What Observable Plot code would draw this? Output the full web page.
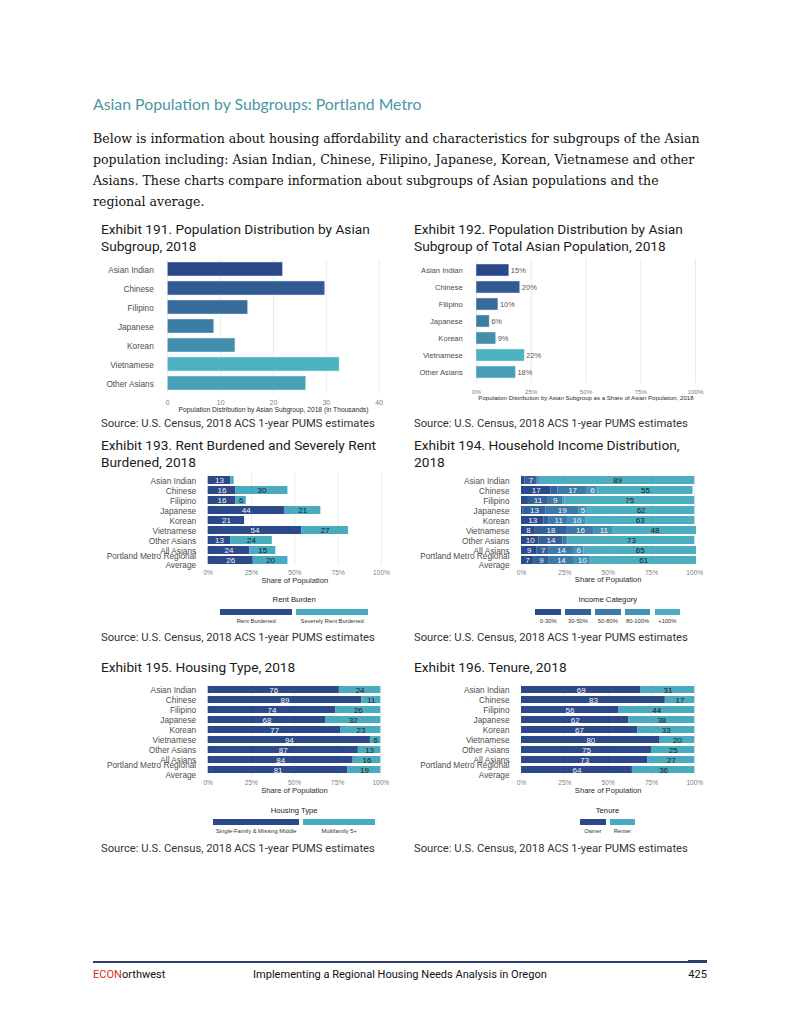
<!DOCTYPE html>
<html><head><meta charset="utf-8">
<script src="https://cdn.jsdelivr.net/npm/d3@7"></script>
<script src="https://cdn.jsdelivr.net/npm/@observablehq/plot@0.6"></script>
<style>
body{margin:0;background:#fff;}
#page{position:relative;width:800px;height:1035px;overflow:hidden;background:#fff;}
</style></head><body><div id="page"></div>
<script>
// ---------------- DATA ----------------
const groups = ["Asian Indian","Chinese","Filipino","Japanese","Korean","Vietnamese","Other Asians"];
const groupsAll = ["Asian Indian","Chinese","Filipino","Japanese","Korean","Vietnamese","Other Asians","All Asians","Portland Metro Regional Average"];
const popThousands = [21.8, 29.8, 15.2, 8.8, 12.8, 32.5, 26.2];
const popShare = [15, 20, 10, 6, 9, 22, 18];
const rentCats = ["Rent Burdened","Severely Rent Burdened"];
const rentBurdened = [13,16,16,44,21,54,13,24,26];
const severelyRentBurdened = [2,30,6,21,0,27,24,15,20];
const incomeCats = ["0-30%","30-50%","50-80%","80-100%","+100%"];
const income0_30 = [2,17,4,1,13,8,10,9,7];
const income30_50 = [7,4,11,13,3,18,14,7,9];
const income50_80 = [1,17,9,19,11,16,2,14,14];
const income80_100 = [1,6,1,5,10,11,1,6,10];
const income100plus = [89,55,75,62,63,48,73,65,61];
const housingCats = ["Single-Family & Missing Middle","Multifamily 5+"];
const singleFamily = [76,89,74,68,77,94,87,84,81];
const multifamily = [24,11,26,32,23,6,13,16,19];
const tenureCats = ["Owner","Renter"];
const owner = [69,83,56,62,67,80,75,73,64];
const renter = [31,17,44,38,33,20,25,27,36];
const ticksThousands = [0,10,20,30,40];
const ticksPct = [0,25,50,75,100];

// ---------------- STYLE ----------------
const SANS = '"Liberation Sans", Arial, sans-serif';
const dark = "#2c4a8a", teal = "#4aaabf";
const incomeColors = ["#2b4a8a","#33629b","#3b7aa9","#4493b5","#4daec2"];
const alpha = [...groups].sort();
const colors7 = alpha.map((g,i)=>d3.interpolateRgb("#2a4887","#4db2c0")(i/6));
const page = document.getElementById("page");

function fitSize(str, font, target){
  const c = document.createElement("canvas").getContext("2d");
  c.font = `20px ${font}`;
  return 20*target/c.measureText(str).width;
}
function addText(str, o){
  const d = document.createElement("div");
  d.textContent = str;
  const lh = o.lh || o.size*1.25;
  Object.assign(d.style,{position:"absolute",left:o.x+"px",top:(o.y-lh/2)+"px",fontFamily:o.font,
    fontSize:o.size+"px",lineHeight:lh+"px",color:o.color||"#000",whiteSpace:"pre",fontWeight:o.weight||"normal"});
  if(o.anchor==="middle") d.style.transform="translateX(-50%)";
  if(o.anchor==="end") d.style.transform="translateX(-100%)";
  page.appendChild(d); return d;
}

// ---------------- PAGE TEXT ----------------
const TITLEF = 'Lato, "Open Sans", sans-serif';
const titleStr = "Asian Population by Subgroups: Portland Metro";
addText(titleStr,{x:93,y:104,font:TITLEF,size:fitSize(titleStr,TITLEF,329),color:"#4a98a3"});
const BODYF = '"DejaVu Serif", serif';
const body = ["Below is information about housing affordability and characteristics for subgroups of the Asian",
 "population including: Asian Indian, Chinese, Filipino, Japanese, Korean, Vietnamese and other",
 "Asians. These charts compare information about subgroups of Asian populations and the",
 "regional average."];
const bodySize = fitSize(body[0],BODYF,607);
body.forEach((l,i)=>addText(l,{x:93,y:139+21*i,font:BODYF,size:bodySize,color:"#111"}));

const EXF = 'Roboto, "Liberation Sans", sans-serif';
const exSize = fitSize("Exhibit 191. Population Distribution by Asian",EXF,269);
function exTitle(lines,x,y){ lines.forEach((l,i)=>addText(l,{x,y:y+16.2*i,font:EXF,size:exSize,color:"#1a1a1a"})); }
exTitle(["Exhibit 191. Population Distribution by Asian","Subgroup, 2018"],101,230);
exTitle(["Exhibit 192. Population Distribution by Asian","Subgroup of Total Asian Population, 2018"],414,230);
exTitle(["Exhibit 193. Rent Burdened and Severely Rent","Burdened, 2018"],101,446);
exTitle(["Exhibit 194. Household Income Distribution,","2018"],414,446);
exTitle(["Exhibit 195. Housing Type, 2018"],101,668);
exTitle(["Exhibit 196. Tenure, 2018"],414,668);
const srcStr = "Source: U.S. Census, 2018 ACS 1-year PUMS estimates";
const srcSize = fitSize(srcStr,EXF,274);
[[101,424],[414,424],[101,638.5],[414,638.5],[101,849],[414,849]].forEach(([x,y])=>addText(srcStr,{x,y,font:EXF,size:srcSize,color:"#333"}));

// footer
const foot = document.createElement("div");
Object.assign(foot.style,{position:"absolute",left:"93px",top:"961px",width:"614px",height:"1.6px",background:"#2e3e6c"});
page.appendChild(foot);
const foot2 = document.createElement("div");
Object.assign(foot2.style,{position:"absolute",left:"688px",top:"960px",width:"19px",height:"3px",background:"#2e3e6c"});
page.appendChild(foot2);
const midStr = "Implementing a Regional Housing Needs Analysis in Oregon";
const footSize = fitSize(midStr,EXF,294);
const econ = addText("",{x:93,y:975,font:EXF,size:footSize});
econ.innerHTML = '<span style="color:#cf2e2e">ECON</span><span style="color:#111">orthwest</span>';
addText(midStr,{x:253,y:975,font:EXF,size:footSize,color:"#111"});
addText("425",{x:707,y:975,font:EXF,size:footSize,color:"#111",anchor:"end"});

// ---------------- CHART HELPERS ----------------
function place(svg,left,top){ svg.style.position="absolute"; svg.style.left=left+"px"; svg.style.top=top+"px"; page.appendChild(svg); }
function ylab(d){ return d==="Portland Metro Regional Average" ? "Portland Metro Regional\nAverage" : d; }

function chart(c){
  const n = c.yDomain.length;
  const rangeTop = c.yFirst - c.step/2;
  const frameBottom = rangeTop + n*c.step;
  const marginTop = rangeTop - c.top;
  const marginBottom = c.axisLabelY + 8 - frameBottom;
  const height = marginTop + n*c.step + marginBottom;
  const marginLeft = c.x0 - c.left;
  const marginRight = 12;
  const width = c.x1 - c.left + marginRight;
  const tickPadding = c.tickY - 0.355*c.tickFont - frameBottom;
  const svg = Plot.plot({
    width, height, marginLeft, marginRight, marginTop, marginBottom,
    style:{fontFamily:SANS, background:"transparent", overflow:"visible"},
    x:{domain:c.xDomain},
    y:{domain:c.yDomain, paddingInner:c.pad, paddingOuter:c.pad/2, align:0.5},
    color:c.color,
    marks:[
      Plot.gridX(c.xTicks,{stroke:"#e6e6e6", strokeOpacity:1, strokeWidth:0.8}),
      ...c.marks,
      Plot.axisX(c.xTicks,{tickSize:0, tickPadding, fontSize:c.tickFont, color:"#808080", tickFormat:c.xFormat, label:null}),
      Plot.axisY({tickSize:0, tickPadding:c.x0-c.labelEnd, fontSize:c.yFont, color:"#4d4d4d", tickFormat:ylab, lineHeight:1.13, label:null}),
      Plot.text([c.axisLabel],{frameAnchor:"bottom", dy:c.axisLabelY-frameBottom+1, fontSize:c.axisLabelFont, fill:"#2a2a2a"})
    ]
  });
  place(svg,c.left,c.top);
}

function legend(c){
  addText(c.title,{x:c.cx,y:c.titleY,font:SANS,size:7.7,color:"#222",anchor:"middle"});
  const total = c.widths.reduce((a,b)=>a+b,0) + c.gap*(c.widths.length-1);
  let x = c.cx - total/2;
  c.labels.forEach((lab,i)=>{
    const w = c.widths[i];
    const s = document.createElement("div");
    Object.assign(s.style,{position:"absolute",left:x+"px",top:c.swY+"px",width:w+"px",height:c.swH+"px",background:c.colors[i]});
    page.appendChild(s);
    addText(lab,{x:x+w/2,y:c.labY,font:SANS,size:5.8,color:"#333",anchor:"middle"});
    x += w + c.gap;
  });
}

function stackData(rows, cats, series){
  const out = [];
  rows.forEach((g,i)=>cats.forEach((cat,j)=>out.push({group:g, cat, value:series[j][i]})));
  return out;
}
function stackMarks(data, cats, lightCats){
  return [
    Plot.barX(data,{x:"value", y:"group", fill:"cat"}),
    Plot.text(data, Plot.stackX({x:"value", y:"group", text:d=>(lightCats.includes(d.cat)&&d.value>=5)?String(d.value):"", fill:"#f2f2f2", fontSize:8})),
    Plot.text(data, Plot.stackX({x:"value", y:"group", text:d=>(!lightCats.includes(d.cat)&&d.value>=5)?String(d.value):"", fill:"#1c1c1c", fontSize:8}))
  ];
}

// ---------------- EXHIBIT 191 ----------------
const d191 = groups.map((g,i)=>({group:g, value:popThousands[i]}));
chart({left:95, top:255, x0:167.3, x1:378.7, xDomain:[0,40], xTicks:ticksThousands, xFormat:d=>String(d),
  yDomain:groups, yFirst:268.7, step:19.27, pad:0.25, labelEnd:153.3, yFont:8.3,
  tickY:401.7, tickFont:7, axisLabel:"Population Distribution by Asian Subgroup, 2018 (in Thousands)", axisLabelY:410.7, axisLabelFont:6.7,
  color:{domain:alpha, range:colors7},
  marks:[Plot.barX(d191,{x:"value", y:"group", fill:"group", stroke:"#dfe6f0", strokeWidth:0.5})]});

// ---------------- EXHIBIT 192 ----------------
const d192 = groups.map((g,i)=>({group:g, value:popShare[i]}));
chart({left:405, top:255, x0:476, x1:695, xDomain:[0,100], xTicks:ticksPct, xFormat:d=>d+"%",
  yDomain:groups, yFirst:267.3, step:17.9, pad:0.31, labelEnd:462.3, yFont:7.6,
  tickY:391.3, tickFont:6.2, axisLabel:"Population Distribution by Asian Subgroup as a Share of Asian Population, 2018", axisLabelY:398.3, axisLabelFont:6.1,
  color:{domain:alpha, range:colors7},
  marks:[Plot.barX(d192,{x:"value", y:"group", fill:"group", stroke:"#dfe6f0", strokeWidth:0.5}),
         Plot.text(d192,{x:"value", y:"group", text:d=>d.value+"%", textAnchor:"start", dx:1.5, fill:"#555", fontSize:7.5})]});

// ---------------- EXHIBIT 193 ----------------
const d193 = stackData(groupsAll, rentCats, [rentBurdened, severelyRentBurdened]);
chart({left:95, top:468, x0:207.7, x1:381, xDomain:[0,100], xTicks:ticksPct, xFormat:d=>d+"%",
  yDomain:groupsAll, yFirst:478.7, step:10.2, pad:0.22, labelEnd:195.7, yFont:8.3,
  tickY:572.3, tickFont:6.6, axisLabel:"Share of Population", axisLabelY:581, axisLabelFont:7.6,
  color:{domain:rentCats, range:[dark, teal]},
  marks:stackMarks(d193, rentCats, [rentCats[0]])});
legend({cx:294.2, title:"Rent Burden", titleY:600.3, swY:608.7, swH:6.3, labY:621.7, labels:rentCats, colors:[dark,teal], widths:[72,72], gap:4});

// ---------------- EXHIBIT 194 ----------------
const d194 = stackData(groupsAll, incomeCats, [income0_30, income30_50, income50_80, income80_100, income100plus]);
chart({left:405, top:468, x0:521, x1:694.3, xDomain:[0,100], xTicks:ticksPct, xFormat:d=>d+"%",
  yDomain:groupsAll, yFirst:478.7, step:10.2, pad:0.22, labelEnd:509, yFont:8.3,
  tickY:572.3, tickFont:6.6, axisLabel:"Share of Population", axisLabelY:581, axisLabelFont:7.6,
  color:{domain:incomeCats, range:incomeColors},
  marks:stackMarks(d194, incomeCats, incomeCats.slice(0,4))});
legend({cx:607.8, title:"Income Category", titleY:600.3, swY:608.7, swH:6.3, labY:621.7, labels:incomeCats, colors:incomeColors, widths:[25.5,25.5,25.5,25.5,25.5], gap:4.3});

// ---------------- EXHIBIT 195 ----------------
const d195 = stackData(groupsAll, housingCats, [singleFamily, multifamily]);
chart({left:95, top:678, x0:207.7, x1:380.3, xDomain:[0,100], xTicks:ticksPct, xFormat:d=>d+"%",
  yDomain:groupsAll, yFirst:689, step:10.2, pad:0.26, labelEnd:195.7, yFont:8.3,
  tickY:782.3, tickFont:6.6, axisLabel:"Share of Population", axisLabelY:791.7, axisLabelFont:7.6,
  color:{domain:housingCats, range:[dark, teal]},
  marks:stackMarks(d195, housingCats, [housingCats[0]])});
legend({cx:294.2, title:"Housing Type", titleY:810.7, swY:819, swH:5.5, labY:831.7, labels:housingCats, colors:[dark,teal], widths:[86,72], gap:4});

// ---------------- EXHIBIT 196 ----------------
const d196 = stackData(groupsAll, tenureCats, [owner, renter]);
chart({left:405, top:678, x0:521, x1:694.3, xDomain:[0,100], xTicks:ticksPct, xFormat:d=>d+"%",
  yDomain:groupsAll, yFirst:689, step:10.2, pad:0.26, labelEnd:509, yFont:8.3,
  tickY:782.3, tickFont:6.6, axisLabel:"Share of Population", axisLabelY:791.7, axisLabelFont:7.6,
  color:{domain:tenureCats, range:[dark, teal]},
  marks:stackMarks(d196, tenureCats, [tenureCats[0]])});
legend({cx:607.5, title:"Tenure", titleY:810.7, swY:819, swH:5.5, labY:831.7, labels:tenureCats, colors:[dark,teal], widths:[25.7,25.3], gap:4});
</script>
</body></html>
